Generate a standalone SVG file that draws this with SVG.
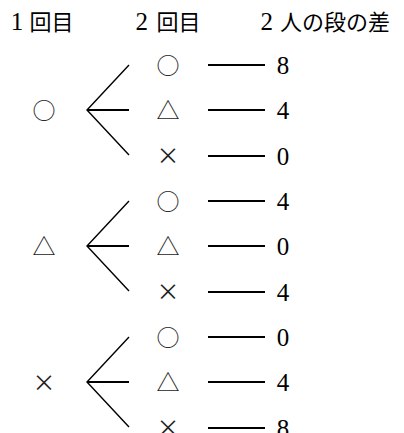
<svg xmlns="http://www.w3.org/2000/svg" width="404" height="433" viewBox="0 0 404 433">
<style>
.bg{fill:#fff}
.cj{font-family:"Noto Sans CJK JP","Liberation Serif",serif;font-size:22px;fill:#000}
.dg{font-family:"Liberation Serif",serif;font-size:25px;fill:#000}
.sym{font-family:"Noto Sans CJK JP",sans-serif;font-size:23px;fill:#222;text-anchor:middle}
.num{font-family:"Liberation Serif",serif;font-size:25px;fill:#000;text-anchor:middle}
.ln{stroke:#000;stroke-width:1.4;fill:none;stroke-linecap:butt}
.hl{stroke:#000;stroke-width:2;fill:none}
</style>
<rect class="bg" x="0" y="0" width="404" height="433"/>
<g id="headers">
<g id="h1"><text y="30"><tspan class="dg" x="17" text-anchor="middle">1</tspan><tspan class="cj" x="29.5">回目</tspan></text></g>
<g id="h2"><text y="30"><tspan class="dg" x="141.7" text-anchor="middle">2</tspan><tspan class="cj" x="156.5">回目</tspan></text></g>
<g id="h3"><text y="30"><tspan class="dg" x="266.7" text-anchor="middle">2</tspan><tspan class="cj" x="280">人の段の差</tspan></text></g>
</g>
<g id="connectors">
<path class="ln" d="M129,65 L87,110 L129,155"/>
<path class="hl" d="M87,110 H129"/>
<path class="ln" d="M129,201 L87,246 L129,291"/>
<path class="hl" d="M87,246 H129"/>
<path class="ln" d="M129,337 L87,382 L129,427"/>
<path class="hl" d="M87,382 H129"/>
<path class="hl" d="M208,65H265 M208,110H265 M208,156H265 M208,201H265 M208,246H265 M208,292H265 M208,337H265 M208,382H265 M208,428H265"/>
</g>
<g id="first">
<g id="f1"><text class="sym" x="44" y="119">○</text></g>
<g id="f2"><text class="sym" x="44" y="255">△</text></g>
<g id="f3"><text class="sym" x="44" y="391">×</text></g>
</g>
<g id="second">
<g id="s1"><text class="sym" x="168" y="74">○</text></g>
<g id="s2"><text class="sym" x="168" y="119">△</text></g>
<g id="s3"><text class="sym" x="168" y="164">×</text></g>
<g id="s4"><text class="sym" x="168" y="210">○</text></g>
<g id="s5"><text class="sym" x="168" y="255">△</text></g>
<g id="s6"><text class="sym" x="168" y="300">×</text></g>
<g id="s7"><text class="sym" x="168" y="346">○</text></g>
<g id="s8"><text class="sym" x="168" y="391">△</text></g>
<g id="s9"><text class="sym" x="168" y="436">×</text></g>
</g>
<g id="results">
<g id="r1"><text class="num" x="283" y="74">8</text></g>
<g id="r2"><text class="num" x="283" y="119">4</text></g>
<g id="r3"><text class="num" x="283" y="165">0</text></g>
<g id="r4"><text class="num" x="283" y="210">4</text></g>
<g id="r5"><text class="num" x="283" y="255">0</text></g>
<g id="r6"><text class="num" x="283" y="301">4</text></g>
<g id="r7"><text class="num" x="283" y="346">0</text></g>
<g id="r8"><text class="num" x="283" y="391">4</text></g>
<g id="r9"><text class="num" x="283" y="437">8</text></g>
</g>
</svg>
